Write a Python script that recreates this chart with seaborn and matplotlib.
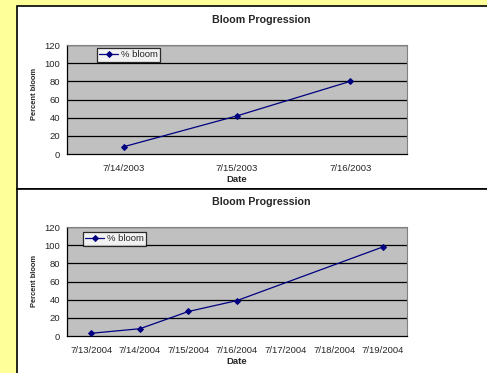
import numpy as np
import pandas as pd
import seaborn as sns
import matplotlib.pyplot as plt
from matplotlib.patches import Rectangle

# Bloom data
dates_2003 = ['7/14/2003', '7/15/2003', '7/16/2003']
bloom_2003 = [8, 42, 80]

dates_2004 = ['7/13/2004', '7/14/2004', '7/15/2004', '7/16/2004',
              '7/17/2004', '7/18/2004', '7/19/2004']
bloom_2004 = [3, 8, 27, 39, np.nan, np.nan, 98]

y_ticks = [0, 20, 40, 60, 80, 100, 120]

sns.set_style('white')
plt.rcParams['font.family'] = ['Liberation Sans', 'DejaVu Sans']

W, H = 487, 373
fig = plt.figure(figsize=(W / 100, H / 100), dpi=100)
fig.patch.set_facecolor('#FFFF99')

# white chart panels with black borders
for top, bottom in [(6, 189), (189, 380)]:
    fig.add_artist(Rectangle((17 / W, 1 - bottom / H), 500 / W, (bottom - top) / H,
                             transform=fig.transFigure, facecolor='white',
                             edgecolor='black', linewidth=1.2, zorder=-10))


def draw(ax, dates, values, title_y, xlabel_y, ylabel_y, legend_xy):
    df = pd.DataFrame({'pos': np.arange(len(dates)), 'bloom': values}).dropna()
    ax.set_facecolor('#C0C0C0')
    for v in y_ticks[1:]:
        ax.axhline(v, color='black', linewidth=0.9, zorder=1)
    sns.lineplot(data=df, x='pos', y='bloom', ax=ax, color='#000080', marker='D',
                 markersize=3, markeredgecolor='#000080', linewidth=0.9,
                 label='% bloom', zorder=3)
    ax.set_xlim(-0.5, len(dates) - 0.5)
    ax.set_ylim(0, 120)
    ax.set_yticks(y_ticks)
    ax.set_xticks(np.arange(len(dates) + 1) - 0.5)
    ax.set_xticklabels([])
    ax.set_xticks(np.arange(len(dates)), minor=True)
    ax.set_xticklabels(dates, minor=True, fontsize=6.8)
    ax.tick_params(axis='x', which='minor', length=0, pad=7)
    ax.tick_params(axis='x', which='major', length=3, width=0.8, direction='out')
    ax.tick_params(axis='y', length=3, width=0.8, direction='out', labelsize=6.8, pad=2)
    ax.set_xlabel('')
    ax.set_ylabel('')
    for side in ['left', 'bottom']:
        ax.spines[side].set_color('black')
        ax.spines[side].set_linewidth(0.9)
    for side in ['top', 'right']:
        ax.spines[side].set_color('#808080')
        ax.spines[side].set_linewidth(0.8)
    leg = ax.legend(loc='upper left', bbox_to_anchor=(legend_xy[0] / W, 1 - legend_xy[1] / H),
                    bbox_transform=fig.transFigure, fontsize=6.8, frameon=True,
                    fancybox=False, handlelength=2.0, handletextpad=0.3,
                    borderpad=0.25, borderaxespad=0)
    leg.get_frame().set_edgecolor('black')
    leg.get_frame().set_linewidth(0.9)
    fig.text(261 / W, 1 - title_y / H, 'Bloom Progression', ha='center', va='center',
             fontsize=7.7, fontweight='bold')
    fig.text(237 / W, 1 - xlabel_y / H, 'Date', ha='center', va='center',
             fontsize=6.8, fontweight='bold')
    fig.text(34 / W, 1 - ylabel_y / H, 'Percent bloom', ha='center', va='center',
             rotation=90, fontsize=5.4, fontweight='bold')


ax1 = fig.add_axes([67 / W, 1 - 154 / H, 340 / W, 109 / H])
draw(ax1, dates_2003, bloom_2003, 20, 180, 94, (97, 48))

ax2 = fig.add_axes([67 / W, 1 - 336 / H, 340 / W, 109 / H])
draw(ax2, dates_2004, bloom_2004, 202, 362, 281, (83, 232))

fig.savefig('out.png', dpi=100, facecolor=fig.get_facecolor())
